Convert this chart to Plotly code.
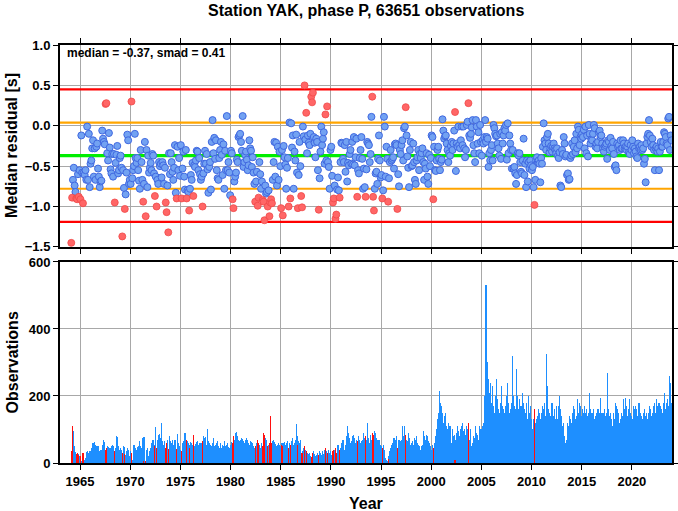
import plotly.graph_objects as go

TITLE = "Station YAK, phase P, 63651 observations"
MEDIAN = -0.37
SMAD = 0.41
FIRST_YEAR = 1964
OUTLIER_FACTOR = 1.2
X_RANGE = [1963, 2024]
YEAR_TICKS = [1965, 1970, 1975, 1980, 1985, 1990, 1995, 2000, 2005, 2010, 2015, 2020]
RES_TICKS = [1.0, 0.5, 0.0, -0.5, -1.0, -1.5]
OBS_TICKS = [0, 200, 400, 600]

# monthly median residuals [s], 12 per year, starting Jan 1964 (None = no data)
res_1960s = [
    None, -1.45, -0.89, -0.67, -0.52, -0.74, -0.82, -0.90, -0.91, -0.60, -0.88, -0.55,
    -0.91, -0.12, -0.58, -0.96, -0.58, -0.61, -0.55, -0.67, -0.01, -0.67, -0.10, -0.76,
    -0.47, -0.43, -0.28, -0.18, -0.63, -0.28, -0.67, -0.26, -0.22, -0.53, -0.63, -0.76,
    -0.69, -0.68, -0.06, -0.16, -0.20, -0.23, 0.27, 0.28, -0.34, -0.43, -0.09, -0.27,
    -0.54, -0.59, -0.35, -0.63, -0.35, -0.95, -0.46, -0.36, -0.25, -0.59, -0.55, -0.40,
    -0.37, -0.52, -1.37, -0.55, -0.77, -1.03, -0.85, -0.58, -0.11, -0.18, -0.72, -0.67,
]
res_1970s = [
    -0.72, 0.30, -0.65, -0.55, -0.50, -0.10, -0.40, -0.46, -0.40, -0.55, -0.68, -0.78,
    -0.30, -0.45, -0.67, -0.94, -0.72, -0.20, -1.12, -0.30, -0.76, -0.37, -0.58, -0.52,
    -0.46, -0.55, -0.35, -0.37, -0.59, -0.87, -0.63, -1.00, -0.67, -0.72, -0.45, -0.50,
    -0.47, -0.64, -0.45, -0.49, -0.72, -0.52, -0.95, -1.07, -0.74, -1.32, -0.34, -0.60,
    -0.34, -0.45, -0.57, -0.67, -0.52, -0.24, -0.83, -0.90, -0.26, -0.55, -0.40, -0.62,
    -0.24, -0.90, -0.53, -0.32, -0.63, -0.79, -0.30, -0.90, -0.80, -0.82, -1.05, -0.78,
    -0.61, -0.67, -0.46, -0.87, -0.49, -0.51, -0.43, -0.31, -0.32, -0.55, -0.40, -0.60,
    -0.67, -0.63, -1.00, -0.59, -0.47, -0.31, -0.47, -0.35, -0.54, -0.83, -0.51, -0.45,
    -0.79, -0.20, 0.07, -0.34, -0.15, -0.41, -0.18, -0.55, -0.65, -0.67, -0.40, -0.30,
    -0.20, -0.36, -0.61, -0.23, -0.78, -0.31, -0.55, 0.12, -0.55, -0.45, -0.58, -0.86,
]
res_1980s = [
    -0.31, -0.34, -0.91, -1.02, -0.69, -0.63, -0.58, -0.42, -0.45, -0.14, -0.12, -0.10,
    -0.20, -0.31, 0.12, -0.51, -0.45, -0.36, -0.32, -0.42, -0.55, -0.49, -0.18, -0.28,
    -0.31, -0.51, -0.39, -0.58, -0.72, -0.94, -0.69, -0.57, -0.99, -0.89, -0.45, -0.60,
    -0.78, -0.69, -0.92, -0.94, -1.17, -0.74, -0.84, -0.82, -1.00, -0.80, -1.12, -0.95,
    -0.91, -0.96, -0.67, -0.45, -0.20, -0.63, -0.21, -0.74, -0.26, -0.67, -0.32, -0.50,
    -1.02, -0.30, -1.11, -0.25, -0.39, -0.48, -0.78, -0.52, -0.40, -1.00, 0.04, -0.90,
    0.03, -0.27, -0.12, -0.78, -0.32, -0.43, -0.11, -0.58, -1.02, -0.61, -0.20, -0.50,
    -0.87, -1.01, -0.01, -0.13, 0.50, -0.17, 0.16, -0.34, -0.12, -0.21, -0.24, -0.10,
    0.36, 0.29, 0.41, -0.14, -0.21, -0.39, -0.16, -0.20, -0.55, -1.04, -0.65, -0.32,
    -0.01, -0.24, -0.16, -0.08, -0.47, 0.14, -0.43, 0.24, -0.45, -0.51, -0.78, -0.30,
]
res_1990s = [
    -0.26, -0.62, -0.95, -0.90, -0.74, -1.15, -1.10, -0.79, -0.64, -0.80, -0.89, -0.45,
    -0.21, -0.22, -0.41, -0.45, -0.24, -0.57, -0.20, -0.69, -0.46, -0.49, -0.35, -0.30,
    -0.47, -0.20, -0.48, -0.14, -0.49, -0.39, -0.16, -0.88, -0.55, -0.59, -0.40, -0.30,
    -0.14, -0.41, -0.78, -0.53, -0.76, -0.88, -0.54, -0.20, -0.22, -0.24, -0.45, -0.35,
    0.11, 0.36, -0.88, -1.05, -0.78, -0.59, -0.57, -0.72, -0.41, -0.12, -0.43, -0.64,
    -0.61, -0.90, -0.80, 0.11, -0.01, -0.63, -0.26, -0.41, -0.94, -0.65, -0.45, -0.30,
    -0.43, -0.41, -0.39, -0.53, -0.23, -0.22, -0.24, -1.03, -0.60, -0.75, -0.30, -0.35,
    -0.24, -0.18, -0.43, -0.03, -0.01, 0.23, -0.12, -0.38, -0.52, -0.76, -0.30, -0.20,
    -0.50, -0.49, -0.22, -0.45, -0.67, -0.72, -0.43, -0.39, -0.30, -0.55, -0.35, -0.40,
    -0.34, -0.28, -0.45, -0.67, -0.47, -0.53, -0.34, -0.63, -0.72, -0.36, -0.50, -0.40,
]
res_2000s = [
    -0.12, -0.14, -0.91, -0.26, -0.55, -0.56, -0.43, -0.30, -0.26, -0.41, -0.55, -0.45,
    -0.42, 0.08, -0.06, -0.16, -0.13, -0.12, -0.22, -0.30, -0.45, -0.34, -0.37, -0.25,
    -0.20, -0.30, -0.22, -0.06, 0.17, -0.56, -0.22, -0.26, -0.01, -0.24, -0.28, -0.18,
    -0.01, -0.24, -0.01, -0.28, -0.39, -0.30, 0.01, 0.05, 0.28, -0.12, -0.15, -0.10,
    -0.02, 0.07, -0.24, -0.34, -0.45, 0.07, -0.01, -0.22, -0.08, -0.34, 0.01, -0.20,
    -0.37, -0.18, -0.22, -0.14, 0.07, -0.20, -0.14, -0.16, -0.51, -0.34, -0.43, -0.30,
    -0.24, -0.43, 0.01, -0.03, -0.10, -0.13, -0.12, -0.22, -0.28, -0.37, -0.10, -0.41,
    -0.08, -0.22, -0.12, -0.03, -0.06, 0.01, -0.42, 0.03, -0.34, -0.12, -0.22, -0.30,
    -0.53, -0.30, -0.53, -0.51, -0.59, -0.72, -0.61, -0.34, -0.37, -0.34, -0.45, -0.57,
    -0.59, -0.43, -0.16, -0.61, -0.47, -0.76, -0.43, -0.69, -0.45, -0.53, -0.43, -0.49,
]
res_2010s = [
    -0.55, -0.51, -0.76, -0.98, -0.67, -0.43, -0.39, -0.45, -0.43, -0.47, -0.70, -0.40,
    -0.47, -0.26, 0.03, -0.18, -0.22, -0.30, -0.14, -0.10, -0.22, -0.33, -0.28, -0.25,
    -0.32, -0.26, -0.22, -0.28, -0.30, -0.34, -0.28, -0.37, -0.40, -0.33, -0.74, -0.76,
    -0.30, -0.35, -0.14, -0.22, -0.38, -0.36, -0.61, -0.59, -0.67, -0.66, -0.40, -0.37,
    -0.22, -0.35, -0.26, -0.18, -0.33, -0.10, -0.28, -0.01, -0.05, -0.24, -0.14, -0.16,
    -0.10, -0.14, -0.05, -0.28, -0.01, -0.34, -0.12, -0.38, 0.01, -0.10, -0.22, -0.17,
    -0.18, -0.10, 0.01, -0.03, -0.26, -0.22, -0.28, -0.20, -0.08, -0.06, -0.14, -0.12,
    -0.22, -0.28, -0.32, -0.26, -0.24, -0.22, -0.41, -0.18, -0.20, -0.30, -0.15, -0.25,
    -0.28, -0.20, -0.35, -0.51, -0.49, -0.55, -0.22, -0.26, -0.24, -0.30, -0.18, -0.28,
    -0.28, -0.18, -0.22, -0.28, -0.26, -0.30, -0.26, -0.22, -0.33, -0.35, -0.24, -0.30,
]
res_2020s = [
    -0.18, -0.26, -0.34, -0.28, -0.32, -0.38, -0.40, -0.22, -0.28, -0.26, -0.30, -0.24,
    -0.30, -0.28, -0.47, -0.41, -0.70, -0.22, -0.14, -0.10, 0.07, -0.12, -0.20, -0.26,
    -0.16, -0.24, -0.30, -0.55, -0.28, -0.26, -0.32, -0.28, -0.55, -0.32, -0.20, -0.26,
    -0.26, -0.20, -0.08, -0.10, -0.14, -0.22, -0.24, 0.09, 0.11, -0.30, -0.12, -0.18,
]

# monthly observation counts, same months as above
obs_1960s = [
    0, 35, 110, 95, 48, 50, 32, 28, 30, 26, 24, 22,
    22, 5, 3, 30, 12, 8, 15, 32, 35, 30, 28, 35,
    35, 45, 55, 60, 58, 62, 55, 50, 45, 52, 38, 35,
    38, 40, 55, 60, 70, 62, 40, 45, 50, 48, 42, 45,
    45, 50, 55, 52, 48, 35, 45, 82, 78, 50, 45, 40,
    45, 40, 30, 52, 48, 28, 25, 35, 45, 40, 20, 15,
]
obs_1970s = [
    35, 30, 10, 12, 55, 50, 45, 40, 48, 52, 38, 65,
    50, 45, 75, 5, 78, 75, 5, 40, 45, 20, 18, 35,
    45, 60, 68, 70, 55, 50, 108, 45, 68, 85, 70, 88,
    75, 120, 65, 55, 60, 65, 45, 60, 70, 42, 80, 55,
    65, 60, 70, 55, 68, 70, 45, 42, 88, 60, 50, 40,
    35, 35, 60, 65, 70, 90, 60, 70, 65, 60, 45, 55,
    62, 60, 55, 85, 50, 45, 58, 62, 65, 55, 50, 60,
    55, 60, 65, 80, 75, 60, 78, 55, 100, 65, 60, 50,
    55, 50, 60, 75, 50, 48, 55, 60, 65, 50, 45, 55,
    60, 45, 55, 50, 65, 50, 40, 55, 60, 48, 45, 50,
]
obs_1980s = [
    55, 62, 60, 82, 70, 65, 90, 92, 80, 70, 65, 60,
    70, 75, 72, 65, 60, 55, 70, 75, 68, 60, 55, 65,
    62, 55, 60, 50, 45, 50, 55, 60, 70, 60, 55, 45,
    60, 55, 50, 90, 85, 75, 65, 70, 50, 55, 60, 140,
    60, 55, 65, 70, 62, 58, 45, 50, 55, 60, 55, 50,
    55, 60, 50, 60, 62, 55, 58, 60, 65, 45, 60, 55,
    50, 65, 75, 55, 60, 70, 115, 80, 55, 65, 60, 70,
    25, 30, 35, 45, 50, 40, 35, 30, 25, 28, 30, 22,
    18, 20, 30, 35, 28, 22, 25, 20, 30, 25, 35, 30,
    25, 30, 35, 28, 40, 45, 35, 30, 25, 40, 30, 35,
]
obs_1990s = [
    25, 30, 35, 40, 38, 45, 30, 28, 55, 50, 40, 45,
    60, 65, 70, 45, 40, 55, 80, 110, 90, 85, 75, 60,
    65, 70, 80, 85, 75, 60, 70, 65, 80, 75, 70, 60,
    65, 70, 90, 85, 75, 80, 70, 120, 75, 70, 60, 85,
    70, 90, 85, 80, 95, 90, 75, 70, 65, 70, 60, 55,
    50, 45, 55, 40, 30, 15, 8, 5, 12, 20, 35, 45,
    55, 60, 50, 75, 65, 70, 80, 45, 60, 70, 55, 65,
    70, 110, 75, 80, 110, 85, 70, 65, 90, 75, 60, 55,
    60, 65, 55, 50, 75, 70, 80, 60, 55, 50, 45, 40,
    50, 55, 95, 80, 75, 70, 85, 80, 65, 60, 50, 45,
]
obs_2000s = [
    40, 55, 45, 50, 60, 80, 100, 130, 150, 215, 180, 160,
    170, 150, 120, 140, 130, 150, 110, 100, 120, 90, 110, 85,
    60, 100, 80, 85, 8, 70, 90, 110, 95, 80, 100, 75,
    110, 120, 95, 100, 85, 75, 110, 100, 120, 70, 90, 100,
    50, 60, 80, 75, 110, 100, 90, 85, 70, 110, 100, 90,
    100, 110, 120, 200, 350, 530, 320, 300, 250, 210, 240, 180,
    160, 230, 170, 150, 160, 200, 250, 190, 160, 150, 180, 160,
    230, 170, 160, 150, 170, 160, 200, 240, 180, 150, 160, 180,
    160, 320, 200, 170, 160, 150, 280, 200, 160, 190, 170, 150,
    170, 210, 180, 160, 150, 140, 180, 130, 200, 150, 170, 130,
]
obs_2010s = [
    100, 90, 130, 160, 120, 110, 130, 140, 160, 150, 130, 140,
    150, 170, 160, 180, 140, 325, 230, 180, 160, 150, 140, 160,
    180, 150, 140, 160, 130, 170, 120, 130, 170, 200, 160, 140,
    110, 100, 120, 80, 60, 70, 120, 90, 110, 140, 130, 120,
    140, 150, 170, 160, 130, 140, 190, 160, 150, 180, 170, 140,
    160, 150, 140, 170, 150, 160, 140, 130, 150, 210, 160, 150,
    140, 150, 160, 130, 140, 150, 145, 160, 140, 150, 195, 150,
    140, 150, 130, 160, 140, 150, 270, 160, 160, 140, 150, 130,
    110, 140, 150, 130, 180, 170, 160, 150, 140, 120, 130, 150,
    140, 150, 190, 160, 195, 170, 140, 150, 160, 190, 150, 140,
]
obs_2020s = [
    130, 170, 160, 150, 170, 160, 140, 150, 180, 160, 150, 140,
    130, 140, 150, 160, 140, 150, 130, 140, 150, 170, 160, 140,
    150, 170, 160, 180, 150, 190, 170, 160, 180, 150, 170, 160,
    150, 180, 210, 170, 160, 180, 190, 170, 260, 200, 240, 180,
]

residuals = res_1960s + res_1970s + res_1980s + res_1990s + res_2000s + res_2010s + res_2020s
observations = obs_1960s + obs_1970s + obs_1980s + obs_1990s + obs_2000s + obs_2010s + obs_2020s
months = [FIRST_YEAR + (i + 0.5) / 12 for i in range(len(residuals))]

def is_outlier(v):
    return abs(v - MEDIAN) > OUTLIER_FACTOR * SMAD

bx, by, rx, ry = [], [], [], []
obx, oby, orx, ory = [], [], [], []
for t, v, n in zip(months, residuals, observations):
    if v is None or n == 0:
        continue
    if is_outlier(v):
        rx.append(t); ry.append(v); orx.append(t); ory.append(n)
    else:
        bx.append(t); by.append(v); obx.append(t); oby.append(n)

FONT = "Liberation Sans, Arial, Helvetica, sans-serif"
BLUE_FILL = "#72a2f2"
BLUE_EDGE = "#4068e0"
RED_FILL = "#ff6666"
RED_EDGE = "#f04848"
BAR_BLUE = "#1e8fff"
BAR_RED = "#ff1010"
BAR_WIDTH = 0.11  # years; slightly wider than one month so every bar is at least 1 px

fig = go.Figure()

levels = [
    (MEDIAN + 2 * SMAD, "#ff0000", 2.2),
    (MEDIAN - 2 * SMAD, "#ff0000", 2.2),
    (MEDIAN + SMAD, "#ffa500", 2.2),
    (MEDIAN - SMAD, "#ffa500", 2.2),
    (MEDIAN, "#00ee00", 3.2),
]
for lvl, col, w in levels:
    fig.add_trace(go.Scatter(x=X_RANGE, y=[lvl, lvl], mode="lines",
                             line=dict(color=col, width=w), xaxis="x", yaxis="y",
                             hoverinfo="skip", showlegend=False))

fig.add_trace(go.Scatter(x=bx, y=by, mode="markers", xaxis="x", yaxis="y",
                         marker=dict(size=7, color=BLUE_FILL, line=dict(color=BLUE_EDGE, width=1)),
                         showlegend=False))
fig.add_trace(go.Scatter(x=rx, y=ry, mode="markers", xaxis="x", yaxis="y",
                         marker=dict(size=7, color=RED_FILL, line=dict(color=RED_EDGE, width=0.8)),
                         showlegend=False))

fig.add_trace(go.Bar(x=obx, y=oby, width=BAR_WIDTH, xaxis="x2", yaxis="y2",
                     marker=dict(color=BAR_BLUE, line=dict(width=0)), showlegend=False))
fig.add_trace(go.Bar(x=orx, y=ory, width=BAR_WIDTH, xaxis="x2", yaxis="y2",
                     marker=dict(color=BAR_RED, line=dict(width=0)), showlegend=False))

tickfont = dict(family=FONT, size=13, color="black", weight="bold")
common_x = dict(range=X_RANGE, tickvals=YEAR_TICKS, showgrid=True, gridcolor="#a8a8a8",
                gridwidth=1, showline=True, linewidth=2, linecolor="black",
                ticks="outside", ticklen=5, tickwidth=1, tickcolor="black",
                zeroline=False, tickfont=tickfont, automargin=False)
common_y = dict(showgrid=True, gridcolor="#a8a8a8", gridwidth=1, showline=True,
                linewidth=2, linecolor="black", ticks="outside", ticklen=5,
                tickwidth=1, tickcolor="black", zeroline=False, tickfont=tickfont,
                mirror="allticks", automargin=False)

fig.update_layout(
    width=678, height=511,
    margin=dict(l=60, r=6, t=45, b=48),
    paper_bgcolor="white", plot_bgcolor="white",
    barmode="overlay", bargap=0,
    font=dict(family=FONT, color="black"),
    xaxis=dict(**common_x, anchor="y", domain=[0, 1], showticklabels=False, mirror="allticks"),
    yaxis=dict(**common_y, anchor="x", domain=[0.517, 1], range=[-1.5, 1.0],
               tickvals=RES_TICKS, tickformat=".1f"),
    xaxis2=dict(**common_x, anchor="y2", domain=[0, 1], mirror=True),
    yaxis2=dict(**common_y, anchor="x2", domain=[0, 0.481], range=[0, 600],
                tickvals=OBS_TICKS),
    annotations=[
        dict(text=TITLE, xref="paper", yref="paper", x=0.5, y=1, yshift=35,
             xanchor="center", yanchor="middle", showarrow=False,
             font=dict(family=FONT, size=16, weight="bold")),
        dict(text="median = %.2f, smad = %.2f" % (MEDIAN, SMAD), xref="paper", yref="paper",
             x=0, y=1, xshift=5, yshift=-8, xanchor="left", yanchor="middle",
             showarrow=False, font=dict(family=FONT, size=12, weight="bold")),
        dict(text="Median residual [s]", xref="paper", yref="y domain", x=0, y=0.5,
             xshift=-48, textangle=-90, xanchor="center", yanchor="middle",
             showarrow=False, font=dict(family=FONT, size=16, weight="bold")),
        dict(text="Observations", xref="paper", yref="y2 domain", x=0, y=0.5,
             xshift=-48, textangle=-90, xanchor="center", yanchor="middle",
             showarrow=False, font=dict(family=FONT, size=16, weight="bold")),
        dict(text="Year", xref="paper", yref="paper", x=0.5, y=0, yshift=-40,
             xanchor="center", yanchor="middle", showarrow=False,
             font=dict(family=FONT, size=16, weight="bold")),
    ],
)

fig.write_html("out.html", config={"displayModeBar": False, "staticPlot": True},
               post_script="document.body.style.margin='0px';document.body.style.overflow='hidden';")
